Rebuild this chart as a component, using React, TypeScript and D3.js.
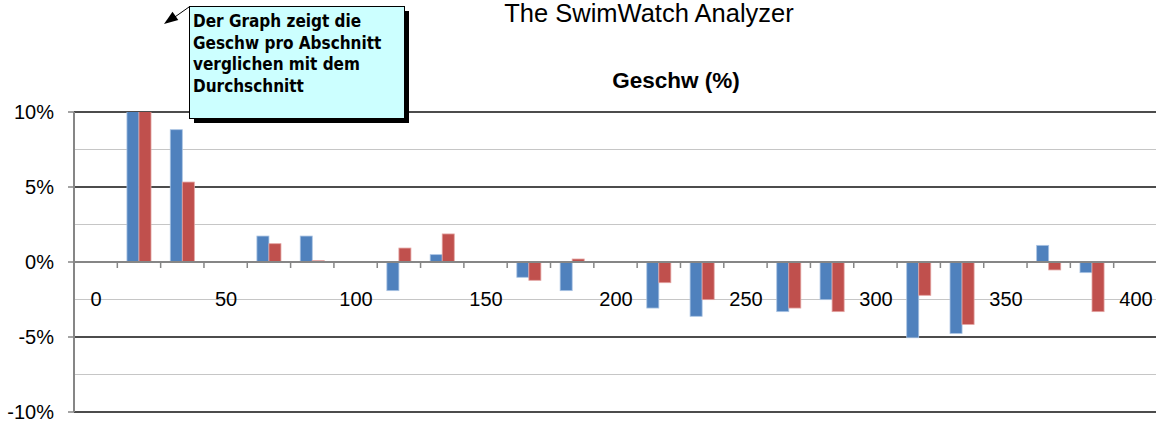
import React from 'react';
import * as d3 from 'd3';

// 25 slots along the x axis, every third slot is empty (gap between pairs)
const slots = d3.range(25);
const blueVals = [null, 12, 8.82, null, 1.73, 1.73, null, -1.91, 0.49, null, -1.02, -1.91, null,
    -3.07, -3.62, null, -3.31, -2.51, null, -5.05, -4.76, null, 1.11, -0.71, null];
const redVals = [null, 11, 5.33, null, 1.22, 0.09, null, 0.93, 1.87, null, -1.22, 0.2, null,
    -1.38, -2.51, null, -3.07, -3.31, null, -2.22, -4.16, null, -0.53, -3.31, null];
const majorTicks = [10, 5, 0, -5, -10];
const minorTicks = [7.5, 2.5, -2.5, -7.5];
const distTicks = [0, 50, 100, 150, 200, 250, 300, 350, 400];
const noteLines = ['Der Graph zeigt die', 'Geschw pro Abschnitt', 'verglichen mit dem', 'Durchschnitt'];

const width = 1156, height = 427;
const left = 74, right = 1157, top = 112, bottom = 412;
const font = '"Liberation Sans", Arial, sans-serif';

export default function App() {
    const x = d3.scaleBand<number>().domain(slots).range([left, right]);
    const inner = d3.scaleBand<string>().domain(['blue', 'red']).range([0, x.bandwidth()])
        .paddingInner(0).paddingOuter(0.8);
    const y = d3.scaleLinear().domain([-10, 10]).range([bottom, top]);
    const dist = d3.scaleLinear().domain([0, 400]).range([96, 1136]);

    const bars = [];
    slots.forEach((s, i) => {
        [['blue', blueVals[i], '#4F81BD', '#a9c3e3'], ['red', redVals[i], '#C0504D', '#e3a3a1']].forEach(([k, v, fill, stroke]) => {
            if (v === null) return;
            const y0 = y(0), y1 = y(v as number);
            bars.push(
                <rect key={k + i} x={x(s)! + inner(k as string)!} width={inner.bandwidth()}
                    y={Math.min(y0, y1)} height={Math.abs(y1 - y0)}
                    fill={fill as string} stroke={stroke as string} strokeWidth={0.8} />
            );
        });
    });

    return (
        <svg width={width} height={height} style={{ position: 'absolute', left: 0, top: 0, background: '#fff' }}
            fontFamily={font}>
            <defs>
                <clipPath id="plot"><rect x={left} y={top} width={right - left} height={bottom - top} /></clipPath>
            </defs>
            <text x={649} y={22} fontSize={25.5} textAnchor="middle">The SwimWatch Analyzer</text>
            <text x={676} y={88} fontSize={22.5} fontWeight="bold" textAnchor="middle">Geschw (%)</text>

            {minorTicks.map(t => (
                <line key={'mi' + t} x1={left} x2={right} y1={y(t)} y2={y(t)} stroke="#c6c6c6" strokeWidth={1.2} />
            ))}
            {majorTicks.filter(t => t !== 0).map(t => (
                <line key={'ma' + t} x1={left} x2={right} y1={y(t)} y2={y(t)} stroke="#111" strokeWidth={1.3} />
            ))}
            {majorTicks.map(t => (
                <g key={'yt' + t}>
                    <line x1={68} x2={left} y1={y(t)} y2={y(t)} stroke="#868686" strokeWidth={1.5} />
                    <text x={54} y={y(t) + 7} fontSize={20} textAnchor="end">{t + '%'}</text>
                </g>
            ))}

            <g clipPath="url(#plot)">{bars}</g>

            <line x1={left} x2={right} y1={y(0)} y2={y(0)} stroke="#868686" strokeWidth={2} />
            {slots.slice(1).map(s => (
                <line key={'xt' + s} x1={x(s)} x2={x(s)} y1={y(0)} y2={y(0) + 6} stroke="#868686" strokeWidth={1.5} />
            ))}
            <line x1={left} x2={left} y1={top} y2={bottom} stroke="#868686" strokeWidth={2} />

            {distTicks.map(d => (
                <text key={'d' + d} x={dist(d)} y={306} fontSize={20} textAnchor="middle">{d}</text>
            ))}

            {/* callout */}
            <line x1={189} y1={7} x2={172} y2={19} stroke="#000" strokeWidth={1} />
            <path d="M164,24 L172.5,11.8 L178.3,20 Z" fill="#000" />
            <rect x={194} y={11} width={215} height={112} fill="#000" />
            <rect x={189.5} y={6.5} width={215} height={112} fill="#CCFFFF" stroke="#000" strokeWidth={1} />
            {noteLines.map((l, i) => (
                <text key={l} x={193} y={27 + i * 21.7} fontSize={17} fontWeight="bold"
                    fontFamily='"DejaVu Sans Condensed", "DejaVu Sans", sans-serif'>{l}</text>
            ))}
        </svg>
    );
}
